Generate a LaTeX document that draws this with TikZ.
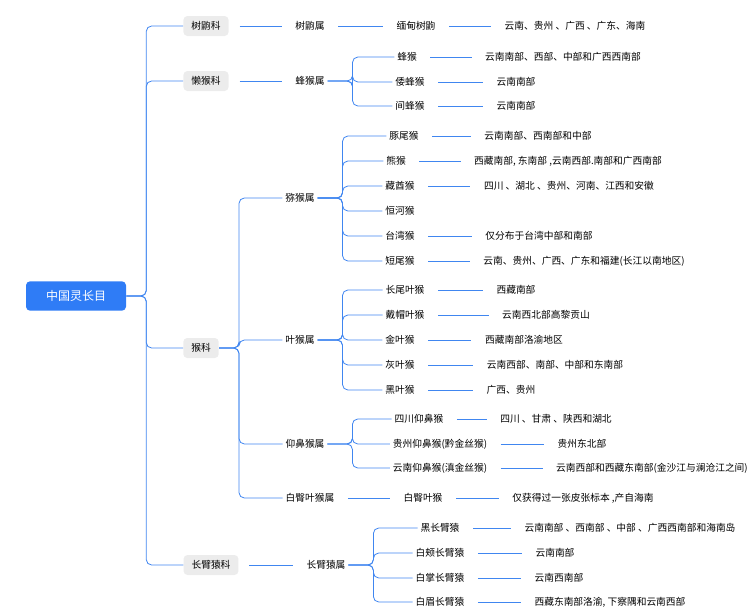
\documentclass[tikz,border=0pt]{standalone}
\usepackage{fontspec}
\setmainfont{Noto Sans CJK SC}
\definecolor{linkblue}{RGB}{64,134,240}
\definecolor{rootblue}{RGB}{47,124,246}
\begin{document}
\begin{tikzpicture}[x=0.75pt,y=-0.75pt,
    font=\fontsize{7.3}{8}\selectfont,
    link/.style={draw=linkblue,line width=0.6pt,rounded corners=4pt},
    gapped/.style={link,shorten <=8pt,shorten >=8pt},
    root node/.style={rounded corners=3pt,fill=rootblue,text=white,
        minimum width=75pt,minimum height=22pt,font=\fontsize{9}{10}\selectfont},
    family node/.style={rounded corners=3pt,fill=gray!15,minimum height=15pt,inner xsep=6pt},
    plain node/.style={inner sep=2pt}]
\useasboundingbox (0,0) rectangle (750,614);

% root and families
\node[root node] (root) at (76,296) {中国灵长目};
\node[family node] (tree) at (206,26) {树鼩科};
\node[family node] (loris) at (206,81) {懒猴科};
\node[family node] (monkey) at (201,348) {猴科};
\node[family node] (gibbon) at (211,565) {长臂猿科};

% genera
\node[plain node] (g1) at (310,26) {树鼩属};
\node[plain node] (g2) at (310,81) {蜂猴属};
\node[plain node] (g3) at (300,198) {猕猴属};
\node[plain node] (g4) at (300,340) {叶猴属};
\node[plain node] (g5) at (305,444) {仰鼻猴属};
\node[plain node] (g6) at (310,498) {白臀叶猴属};
\node[plain node] (g7) at (326,565) {长臂猿属};

% species
\node[plain node] (s1) at (416,26) {缅甸树鼩};
\node[plain node] (s2) at (407,57) {蜂猴};
\node[plain node] (s3) at (410,82) {倭蜂猴};
\node[plain node] (s4) at (410,106) {间蜂猴};
\node[plain node] (s5) at (404,136) {豚尾猴};
\node[plain node] (s6) at (396,161) {熊猴};
\node[plain node] (s7) at (400,186) {藏酋猴};
\node[plain node] (s8) at (400,211) {恒河猴};
\node[plain node] (s9) at (400,236) {台湾猴};
\node[plain node] (s10) at (400,261) {短尾猴};
\node[plain node] (s11) at (405,290) {长尾叶猴};
\node[plain node] (s12) at (405,315) {戴帽叶猴};
\node[plain node] (s13) at (400,340) {金叶猴};
\node[plain node] (s14) at (400,365) {灰叶猴};
\node[plain node] (s15) at (400,390) {黑叶猴};
\node[plain node] (s16) at (419,419) {四川仰鼻猴};
\node[plain node] (s17) at (440,444) {贵州仰鼻猴(黔金丝猴)};
\node[plain node] (s18) at (440,468) {云南仰鼻猴(滇金丝猴)};
\node[plain node] (s19) at (423,498) {白臀叶猴};
\node[plain node] (s20) at (440,528) {黑长臂猿};
\node[plain node] (s21) at (440,553) {白颊长臂猿};
\node[plain node] (s22) at (440,578) {白掌长臂猿};
\node[plain node] (s23) at (440,602) {白眉长臂猿};

% ranges
\node[plain node] (r1) at (575,26) {云南、贵州 、广西 、广东、海南};
\node[plain node] (r2) at (563,57) {云南南部、西部、中部和广西西南部};
\node[plain node] (r3) at (516,82) {云南南部};
\node[plain node] (r4) at (516,106) {云南南部};
\node[plain node] (r5) at (538,136) {云南南部、西南部和中部};
\node[plain node] (r6) at (568,161) {西藏南部, 东南部 ,云南西部.南部和广西南部};
\node[plain node] (r7) at (569,186) {四川 、湖北 、贵州、河南、江西和安徽};
\node[plain node] (r9) at (539,236) {仅分布于台湾中部和南部};
\node[plain node] (r10) at (584,261) {云南、贵州、广西、广东和福建(长江以南地区)};
\node[plain node] (r11) at (516,290) {西藏南部};
\node[plain node] (r12) at (546,315) {云南西北部高黎贡山};
\node[plain node] (r13) at (524,340) {西藏南部洛渝地区};
\node[plain node] (r14) at (555,365) {云南西部、南部、中部和东南部};
\node[plain node] (r15) at (511,390) {广西、贵州};
\node[plain node] (r16) at (556,419) {四川 、甘肃 、陕西和湖北};
\node[plain node] (r17) at (582,444) {贵州东北部};
\node[plain node] (r18) at (652,468) {云南西部和西藏东南部(金沙江与澜沧江之间)};
\node[plain node] (r19) at (583,498) {仅获得过一张皮张标本 ,产自海南};
\node[plain node] (r20) at (630,528) {云南南部 、西南部 、中部 、广西西南部和海南岛};
\node[plain node] (r21) at (555,553) {云南南部};
\node[plain node] (r22) at (559,578) {云南西南部};
\node[plain node] (r23) at (610,602) {西藏东南部洛渝, 下察隅和云南西部};

% tree links
\foreach \f in {tree,loris,monkey,gibbon}
  \draw[link] (root.east) -- ++(20,0) |- (\f.west);
\draw[gapped] (tree) -- (g1);
\draw[gapped] (loris) -- (g2);
\draw[gapped] (gibbon) -- (g7);
\foreach \g in {g3,g4,g5,g6}
  \draw[link] (monkey.east) -- ++(20,0) |- (\g.west);
\draw[gapped] (g1) -- (s1);
\foreach \s in {s2,s3,s4}
  \draw[link] (g2.east) -- ++(25,0) |- (\s.west);
\foreach \s in {s5,s6,s7,s8,s9,s10}
  \draw[link] (g3.east) -- ++(25,0) |- (\s.west);
\foreach \s in {s11,s12,s13,s14,s15}
  \draw[link] (g4.east) -- ++(25,0) |- (\s.west);
\foreach \s in {s16,s17,s18}
  \draw[link] (g5.east) -- ++(25,0) |- (\s.west);
\draw[gapped] (g6) -- (s19);
\foreach \s in {s20,s21,s22,s23}
  \draw[link] (g7.east) -- ++(25,0) |- (\s.west);
\foreach \i in {1,2,3,4,5,6,7,9,10,11,12,13,14,15,16,17,18,19,20,21,22,23}
  \draw[gapped] (s\i) -- (r\i);
\end{tikzpicture}
\end{document}
